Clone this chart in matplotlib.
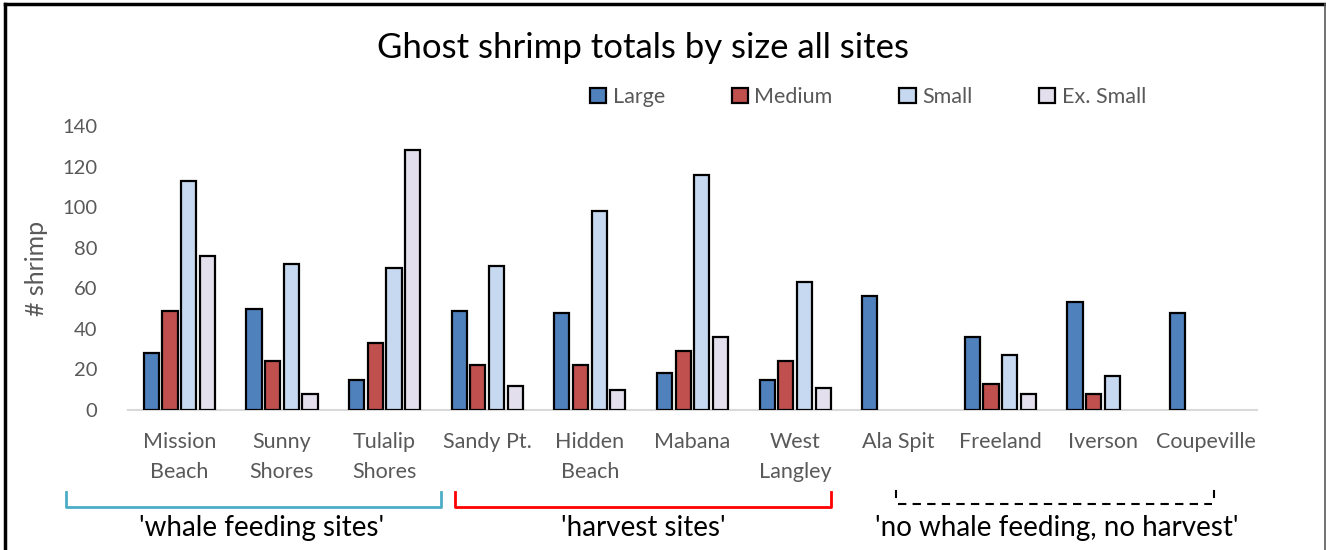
import matplotlib
matplotlib.use("Agg")
import matplotlib.pyplot as plt
import numpy as np
from matplotlib.patches import Patch
from matplotlib.lines import Line2D

sites = ["Mission\nBeach", "Sunny\nShores", "Tulalip\nShores", "Sandy Pt.", "Hidden\nBeach",
         "Mabana", "West\nLangley", "Ala Spit", "Freeland", "Iverson", "Coupeville"]
large = [28, 50, 15, 49, 48, 18, 15, 56, 36, 53, 48]
medium = [49, 24, 33, 22, 22, 29, 24, 0, 13, 8, 0]
small = [113, 72, 70, 71, 98, 116, 63, 0, 27, 17, 0]
ex_small = [76, 8, 128, 12, 10, 36, 11, 0, 8, 0, 0]
series_names = ["Large", "Medium", "Small", "Ex. Small"]
colors = ["#4F81BD", "#C0504D", "#C6D9F1", "#E4DFEC"]
yticks = [0, 20, 40, 60, 80, 100, 120, 140]
group_labels = ["'whale feeding sites'", "'harvest sites'", "'no whale feeding, no harvest'"]

plt.rcParams['font.family'] = ['Lato', 'DejaVu Sans']
W, H = 1326, 550
fig = plt.figure(figsize=(W / 100, H / 100), dpi=100)

def fx(px):
    return px / W

def fy(py):
    return 1 - py / H

ax = fig.add_axes([fx(128), fy(410), fx(1257) - fx(128), fy(126) - fy(410)])
x = np.arange(len(sites))
step = 0.182
bw = 0.148
data = [large, medium, small, ex_small]
for i, (vals, c, name) in enumerate(zip(data, colors, series_names)):
    offs = (i - 1.5) * step
    vals = np.array(vals, dtype=float)
    mask = vals > 0
    ax.bar(x[mask] + offs, vals[mask], width=bw, color=c, edgecolor="black", linewidth=1.6,
           label=name, zorder=3)

ax.set_xlim(-0.5, len(sites) - 0.5)
ax.set_ylim(0, 140)
ax.set_yticks(yticks)
ax.set_xticks(x)
ax.set_xticklabels(sites, linespacing=1.62)
for s in ["top", "right", "left"]:
    ax.spines[s].set_visible(False)
ax.spines["bottom"].set_color("#D9D9D9")
ax.spines["bottom"].set_linewidth(1.5)
ax.tick_params(axis="y", length=0, colors="#595959", labelsize=14.5, pad=22)
ax.tick_params(axis="x", length=0, colors="#595959", labelsize=15.5, pad=16)
ax.set_ylabel("# shrimp", color="#595959", fontsize=18, labelpad=10)

fig.text(fx(643), fy(48), "Ghost shrimp totals by size all sites", ha="center", va="center",
         fontsize=25, color="black")

handles = [Patch(facecolor=c, edgecolor="black", linewidth=1.6) for c in colors]
fig.legend(handles, series_names, loc="center", bbox_to_anchor=(fx(868), fy(97)), ncol=4,
           frameon=False, fontsize=15.5, labelcolor="#595959", handlelength=0.75, handleheight=0.75,
           handletextpad=0.3, columnspacing=3.1)

# border
fig.add_artist(Line2D([fx(5), fx(5)], [fy(550), fy(4)], color="black", lw=2.5, transform=fig.transFigure))
fig.add_artist(Line2D([fx(5), fx(1325)], [fy(4), fy(4)], color="black", lw=2.5, transform=fig.transFigure))
fig.add_artist(Line2D([fx(1325), fx(1325)], [fy(4), fy(550)], color="#595959", lw=1.2, transform=fig.transFigure))

# brackets
fig.add_artist(Line2D([fx(66), fx(66), fx(441), fx(441)], [fy(492), fy(507), fy(507), fy(492)],
                      color="#4BACC6", lw=2, transform=fig.transFigure))
fig.add_artist(Line2D([fx(455), fx(455), fx(831), fx(831)], [fy(492), fy(507), fy(507), fy(492)],
                      color="#FF0000", lw=2, transform=fig.transFigure))
fig.add_artist(Line2D([fx(898), fx(1212)], [fy(504), fy(504)], color="black", lw=1.5,
                      linestyle=(0, (4, 3)), transform=fig.transFigure))
fig.add_artist(Line2D([fx(896), fx(896)], [fy(491), fy(497)], color="black", lw=1.5, transform=fig.transFigure))
fig.add_artist(Line2D([fx(1214), fx(1214)], [fy(491), fy(497)], color="black", lw=1.5, transform=fig.transFigure))

for lbl, cx in zip(group_labels, [262, 643, 1057]):
    fig.text(fx(cx), fy(528), lbl, ha="center", va="center", fontsize=20, color="black")

fig.savefig("out.png", dpi=100)
